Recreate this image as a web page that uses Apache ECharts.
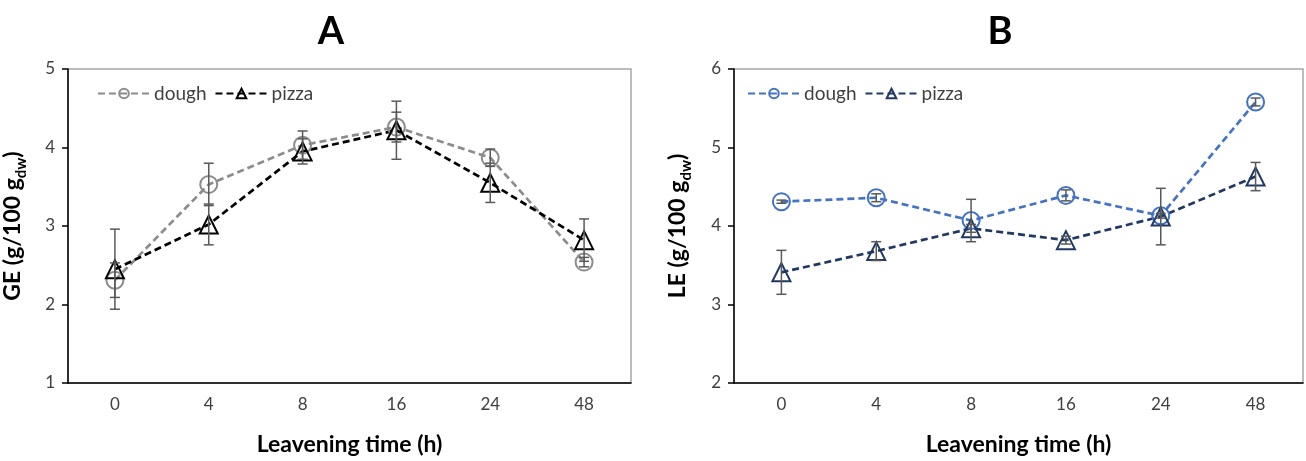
<!DOCTYPE html>
<html><head><meta charset="utf-8">
<script src="https://cdn.jsdelivr.net/npm/echarts@6/dist/echarts.min.js"></script>
<style>html,body{margin:0;padding:0;background:#fff}#c{width:1306px;height:461px}</style>
</head><body><div id="c"></div>
<script>
const categories = ['0', '4', '8', '16', '24', '48'];
// Panel A: GE
const geDough = [2.31, 3.53, 4.03, 4.26, 3.87, 2.54];
const geDoughErr = [0.22, 0.27, 0.18, 0.19, 0.11, 0.06];
const gePizza = [2.45, 3.02, 3.95, 4.22, 3.55, 2.82];
const gePizzaErr = [0.51, 0.26, 0.16, 0.37, 0.25, 0.27];
// Panel B: LE
const leDough = [4.31, 4.36, 4.07, 4.39, 4.13, 5.58];
const leDoughErr = [0.02, 0.05, 0.27, 0.07, 0.03, 0.05];
const lePizza = [3.41, 3.68, 3.97, 3.82, 4.12, 4.63];
const lePizzaErr = [0.28, 0.12, 0.05, 0.05, 0.36, 0.18];

const FONT = 'Lato, "Open Sans", sans-serif';
const ERR_COLOR = '#595959';

function errData(vals, errs) {
  return vals.map((v, i) => [i, v - errs[i], v + errs[i]]);
}
function errSeries(vals, errs, xi, yi) {
  return {
    type: 'custom', xAxisIndex: xi, yAxisIndex: yi, z: 5, silent: true,
    data: errData(vals, errs),
    renderItem: function (params, api) {
      const x = api.value(0);
      const lo = api.coord([x, api.value(1)]);
      const hi = api.coord([x, api.value(2)]);
      const w = 5;
      const st = { stroke: ERR_COLOR, lineWidth: 1.5 };
      return { type: 'group', children: [
        { type: 'line', shape: { x1: hi[0], y1: hi[1], x2: lo[0], y2: lo[1] }, style: st },
        { type: 'line', shape: { x1: hi[0] - w, y1: hi[1], x2: hi[0] + w, y2: hi[1] }, style: st },
        { type: 'line', shape: { x1: lo[0] - w, y1: lo[1], x2: lo[0] + w, y2: lo[1] }, style: st }
      ]};
    }
  };
}
function lineSeries(name, vals, color, symbol, xi, yi) {
  return {
    name: name, type: 'line', xAxisIndex: xi, yAxisIndex: yi, data: vals, z: 3,
    symbol: symbol, symbolSize: symbol === 'circle' ? 17 : 18,
    itemStyle: { color: 'rgba(0,0,0,0)', borderColor: color, borderWidth: 2 },
    lineStyle: { color: color, width: 2.7, type: [7, 4] },
    emphasis: { disabled: true }
  };
}
function xAxis(gi) {
  return {
    type: 'category', gridIndex: gi, data: categories, boundaryGap: true,
    axisLine: { lineStyle: { color: '#000', width: 1.5 } },
    axisTick: { alignWithLabel: true, length: 6, lineStyle: { color: '#000', width: 1.5 } },
    axisLabel: { color: '#404040', fontSize: 17, fontFamily: FONT, margin: 13 },
    name: 'Leavening time (h)', nameLocation: 'middle', nameGap: 50,
    nameTextStyle: { color: '#000', fontSize: 23, fontWeight: 'bold', fontFamily: FONT }
  };
}
function yAxis(gi, min, max, lbl, gap) {
  return {
    type: 'value', gridIndex: gi, min: min, max: max, interval: 1,
    splitLine: { show: false },
    axisLine: { show: true, lineStyle: { color: '#000', width: 1.5 } },
    axisTick: { show: true, length: 6, lineStyle: { color: '#000', width: 1.5 } },
    axisLabel: { color: '#404040', fontSize: 17, fontFamily: FONT, margin: 13 },
    name: '{a|' + lbl + ' (g/100 g}{s|dw}{a|)}', nameLocation: 'middle', nameGap: gap,
    nameTextStyle: {
      rich: {
        a: { color: '#000', fontSize: 23, fontWeight: 'bold', fontFamily: FONT, lineHeight: 28, verticalAlign: 'bottom' },
        s: { color: '#000', fontSize: 15, fontWeight: 'bold', fontFamily: FONT, lineHeight: 28, verticalAlign: 'bottom', padding: [0, 0, -5, 0] }
      }
    }
  };
}
function legend(left, names) {
  return {
    left: left, top: 79, itemWidth: 52, itemHeight: 12, itemGap: 8,
    data: names, selectedMode: false,
    formatter: function (n) { return n.split(' ')[0]; },
    textStyle: { color: '#404040', fontSize: 19, fontFamily: FONT, padding: [0, 0, 0, -1] }
  };
}

const chart = echarts.init(document.getElementById('c'), null, { renderer: 'canvas' });
chart.setOption({
  backgroundColor: '#fff',
  animation: false,
  title: [
    { text: 'A', left: 326, top: 8, textAlign: 'center', textStyle: { fontSize: 38, fontWeight: 'bold', fontFamily: FONT, color: '#000' } },
    { text: 'B', left: 995, top: 8, textAlign: 'center', textStyle: { fontSize: 38, fontWeight: 'bold', fontFamily: FONT, color: '#000' } }
  ],
  legend: [legend(92, ['dough A', 'pizza A']), legend(742, ['dough B', 'pizza B'])],
  grid: [
    { left: 68, top: 69, width: 563, height: 321, show: true, borderColor: '#a6a6a6', borderWidth: 1.5 },
    { left: 734, top: 69, width: 569, height: 320, show: true, borderColor: '#a6a6a6', borderWidth: 1.5 }
  ],
  xAxis: [xAxis(0), xAxis(1)],
  yAxis: [yAxis(0, 1, 5, 'GE', 44), yAxis(1, 2, 6, 'LE', 45)],
  series: [
    lineSeries('dough A', geDough, '#8c8c8c', 'circle', 0, 0),
    lineSeries('pizza A', gePizza, '#000000', 'triangle', 0, 0),
    errSeries(geDough, geDoughErr, 0, 0),
    errSeries(gePizza, gePizzaErr, 0, 0),
    lineSeries('dough B', leDough, '#4472c4', 'circle', 1, 1),
    lineSeries('pizza B', lePizza, '#203864', 'triangle', 1, 1),
    errSeries(leDough, leDoughErr, 1, 1),
    errSeries(lePizza, lePizzaErr, 1, 1)
  ]
});
</script></body></html>
